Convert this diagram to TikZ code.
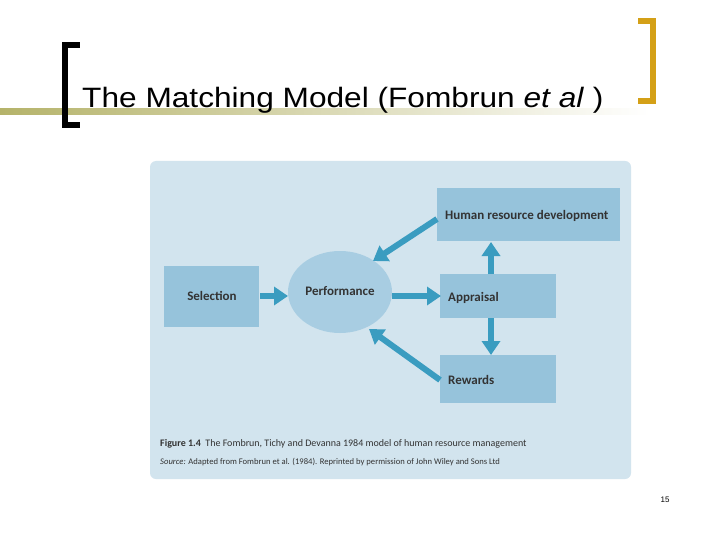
\documentclass[tikz,border=0pt]{standalone}
\usepackage{fontspec}
\setmainfont{Liberation Sans}
\newfontfamily\figfont{Carlito}
\usetikzlibrary{arrows.meta,shapes.geometric}
\definecolor{panel}{HTML}{D2E4EE}
\definecolor{boxc}{HTML}{96C3DB}
\definecolor{ellc}{HTML}{A8CDE2}
\definecolor{arr}{HTML}{3A9CC0}
\definecolor{gold}{HTML}{D4A017}
\definecolor{olive}{HTML}{B5B36A}
\begin{document}
\begin{tikzpicture}[x=1pt,y=-1pt,
  bx/.style={fill=boxc,inner sep=0pt,anchor=north west},
  lbl/.style={inner sep=0pt,font=\figfont\bfseries\fontsize{13}{15}\selectfont\color{black!80}},
  ar/.style={draw=arr,line width=6pt,-{Triangle[length=14pt,width=18pt]}}]
\useasboundingbox (0,0) rectangle (720,540);
\fill[white] (0,0) rectangle (720,540);
% olive fading line
\shade[left color=olive, right color=white] (0,109) rectangle (650,115);
% brackets
\fill[black] (62,42) rectangle (68,128);
\fill[black] (62,42) rectangle (80,48);
\fill[black] (62,122) rectangle (80,128);
\fill[gold] (650,18) rectangle (656,104);
\fill[gold] (638,18) rectangle (656,24);
\fill[gold] (638,98) rectangle (656,104);
\node[anchor=base west,inner sep=0pt,font=\fontsize{28}{32}\selectfont,xscale=1.13] (title) at (82,108) {The Matching Model (Fombrun \textit{et al} )};
% panel
\fill[panel,rounded corners=6pt] (150,161) rectangle (631,479);
\node[bx,minimum width=183pt,minimum height=53pt] (hrd) at (437,188) {};
\node[lbl,anchor=west] at (445,216) {Human resource development};
\node[bx,minimum width=95pt,minimum height=61pt] (sel) at (164,266) {};
\node[lbl] at (212,296) {Selection};
\node[fill=ellc,ellipse,minimum width=104pt,minimum height=82pt,inner sep=0pt] (perf) at (340,292) {};
\node[lbl] at (340,291) {Performance};
\node[bx,minimum width=116pt,minimum height=44pt] (app) at (440,274) {};
\node[lbl,anchor=west] at (448,298) {Appraisal};
\node[bx,minimum width=116pt,minimum height=48pt] (rew) at (440,355) {};
\node[lbl,anchor=west] at (448,380) {Rewards};
% arrows
\coordinate (s1) at (260,296); \coordinate (s2) at (288,296);
\draw[ar] (s1) -- (s2);
\coordinate (p1) at (392,296); \coordinate (p2) at (441,296);
\draw[ar] (p1) -- (p2);
\coordinate (h1) at (437,219); \coordinate (h2) at (373,261);
\draw[ar] (h1) -- (h2);
\coordinate (r1) at (440,380); \coordinate (r2) at (369,329);
\draw[ar] (r1) -- (r2);
\coordinate (a1) at (491,274); \coordinate (a2) at (491,242);
\draw[ar] (a1) -- (a2);
\coordinate (b1) at (491,318); \coordinate (b2) at (491,355);
\draw[ar] (b1) -- (b2);
% caption
\node[anchor=base west,inner sep=0pt,font=\figfont\fontsize{10}{12}\selectfont\color{black!80}] (cap) at (160,446) {\textbf{Figure 1.4}\ \ The Fombrun, Tichy and Devanna 1984 model of human resource management};
\node[anchor=base west,inner sep=0pt,font=\figfont\fontsize{8.6}{11}\selectfont\color{black!80}] (src) at (160,464) {\textit{Source:} Adapted from Fombrun et al. (1984). Reprinted by permission of John Wiley and Sons Ltd};
\node[font=\fontsize{8}{10}\selectfont] (pg) at (665,500) {15};
\end{tikzpicture}
\end{document}
